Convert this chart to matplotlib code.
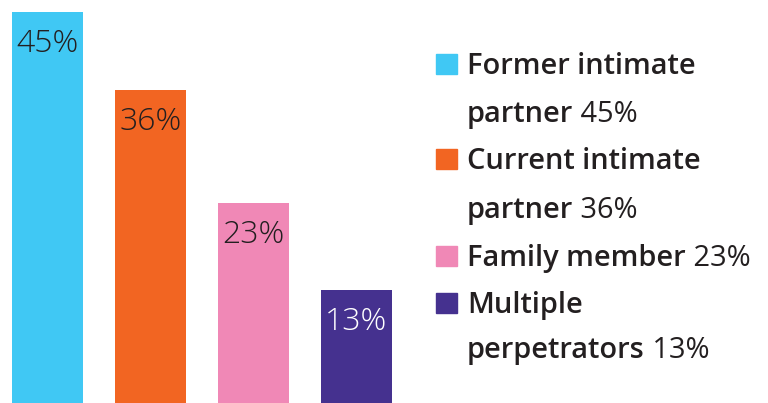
import matplotlib
matplotlib.use("Agg")
import matplotlib.pyplot as plt
from matplotlib.patches import Rectangle

# ── Data ──────────────────────────────────────────────────────────────────────
categories = ["Former intimate partner", "Current intimate partner",
              "Family member", "Multiple perpetrators"]
values = [45, 36, 23, 13]
legend_lines = [["Former intimate", "partner"],
                ["Current intimate", "partner"],
                ["Family member"],
                ["Multiple", "perpetrators"]]

COLORS     = ["#40C8F4", "#F26522", "#F088B6", "#45318F"]
LABEL_CLRS = ["#231F20", "#231F20", "#231F20", "#FFFFFF"]
TEXT_CLR   = "#231F20"

W, H = 768, 403
plt.rcParams["font.family"] = ["Open Sans", "DejaVu Sans"]

fig = plt.figure(figsize=(W / 100, H / 100), dpi=100)
ax = fig.add_axes([0, 0, 1, 1])
ax.set_axis_off()

# spacing 103 px per bar, first bar centre at 47.5 px, 45% -> 391 px
ax.set_xlim(-47.5 / 103, (W - 47.5) / 103)
ax.set_ylim(0, H / (391 / 45))

xs = list(range(len(values)))
bars = ax.bar(xs, values, width=71 / 103, color=COLORS)
for x, v, c in zip(xs, values, LABEL_CLRS):
    ax.annotate(f"{v}%", (x, v), xytext=(0, -28.5), textcoords="offset points",
                ha="center", va="baseline", fontsize=23, fontweight="light", color=c)

# ── Custom legend ─────────────────────────────────────────────────────────────
def fx(px):
    return px / W


def fy(py):
    return 1 - py / H


baselines = [74, 122, 169, 218, 266, 313, 358]
row = 0
for lines, v, c in zip(legend_lines, values, COLORS):
    y0 = baselines[row]
    fig.patches.append(Rectangle((fx(436), fy(y0)), 21 / W, 20 / H,
                                 transform=fig.transFigure, color=c))
    for i, line in enumerate(lines):
        t = fig.text(fx(467), fy(baselines[row]), line, fontsize=20.9,
                     fontweight="semibold", color=TEXT_CLR, va="baseline")
        if i == len(lines) - 1:
            ax.annotate(f" {v}%", xy=(1, 0), xycoords=t, va="bottom",
                        fontsize=20.9, color=TEXT_CLR)
        row += 1

fig.savefig("out.png", dpi=100)
